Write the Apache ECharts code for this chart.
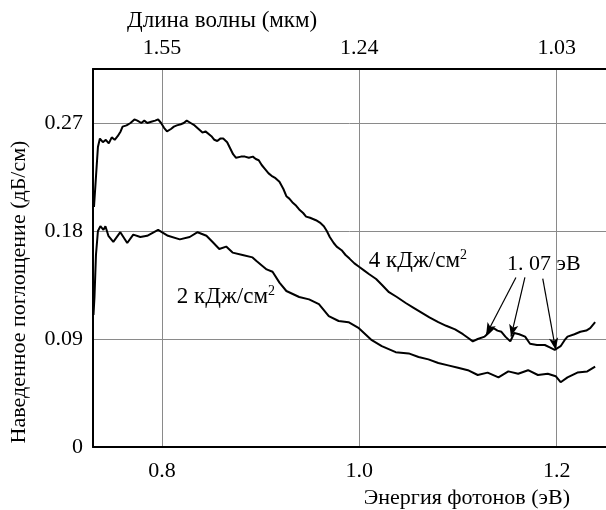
<!DOCTYPE html>
<html>
<head>
<meta charset="utf-8">
<script src="https://cdn.jsdelivr.net/npm/echarts@6/dist/echarts.min.js"></script>
<style>html,body{margin:0;padding:0;background:#fff}#c{width:606px;height:510px}</style>
</head>
<body>
<div id="c"></div>
<script>
// ---- data ----
const energyTicks = [0.8, 1.0, 1.2];
const wavelengthLabels = ['1.55', '1.24', '1.03'];
const yTickValues = [0, 0.09, 0.18, 0.27];

const energy4 = [0.731,0.733,0.735,0.737,0.740,0.743,0.746,0.749,0.752,0.755,0.758,0.760,0.764,0.768,0.772,0.775,0.779,0.782,0.785,0.789,0.793,0.796,0.799,0.802,0.805,0.809,0.812,0.815,0.819,0.822,0.825,0.829,0.833,0.837,0.841,0.844,0.846,0.850,0.853,0.856,0.859,0.862,0.866,0.869,0.872,0.875,0.877,0.880,0.884,0.888,0.892,0.895,0.898,0.901,0.904,0.908,0.911,0.915,0.919,0.923,0.926,0.929,0.932,0.936,0.939,0.943,0.946,0.950,0.953,0.956,0.960,0.964,0.967,0.970,0.974,0.977,0.982,0.986,0.990,0.995,1.000,1.005,1.010,1.017,1.023,1.030,1.038,1.047,1.055,1.063,1.071,1.080,1.088,1.097,1.105,1.110,1.115,1.120,1.127,1.131,1.136,1.140,1.144,1.148,1.153,1.157,1.162,1.168,1.173,1.180,1.188,1.193,1.198,1.204,1.208,1.211,1.218,1.224,1.230,1.234,1.239];
const absorb4 = [0.200,0.225,0.250,0.257,0.254,0.256,0.253,0.258,0.256,0.259,0.263,0.267,0.268,0.270,0.273,0.272,0.270,0.272,0.270,0.271,0.272,0.273,0.270,0.266,0.263,0.265,0.267,0.268,0.269,0.270,0.272,0.270,0.268,0.265,0.262,0.263,0.263,0.259,0.256,0.255,0.257,0.257,0.254,0.249,0.244,0.241,0.240,0.242,0.242,0.241,0.242,0.240,0.239,0.235,0.232,0.228,0.226,0.224,0.221,0.215,0.209,0.207,0.204,0.201,0.198,0.195,0.192,0.191,0.190,0.189,0.187,0.184,0.180,0.175,0.170,0.167,0.164,0.160,0.157,0.153,0.150,0.147,0.144,0.140,0.135,0.129,0.125,0.120,0.116,0.112,0.108,0.104,0.101,0.098,0.094,0.091,0.088,0.090,0.092,0.095,0.099,0.097,0.096,0.092,0.088,0.095,0.094,0.092,0.086,0.085,0.085,0.083,0.081,0.084,0.089,0.092,0.094,0.096,0.097,0.099,0.104];

const energy2 = [0.7305,0.7315,0.733,0.735,0.7375,0.7406,0.7426,0.7456,0.7506,0.7577,0.7647,0.7708,0.778,0.7849,0.796,0.806,0.818,0.828,0.836,0.845,0.851,0.858,0.865,0.8715,0.8816,0.8917,0.8957,0.906,0.912,0.919,0.926,0.939,0.949,0.959,0.969,0.979,0.989,0.9995,1.0126,1.0227,1.0368,1.050,1.060,1.070,1.080,1.090,1.100,1.110,1.120,1.130,1.141,1.151,1.161,1.171,1.181,1.191,1.199,1.204,1.211,1.221,1.231,1.239];
const absorb2 = [0.110,0.125,0.160,0.180,0.184,0.181,0.184,0.176,0.171,0.179,0.170,0.177,0.175,0.176,0.181,0.176,0.173,0.175,0.179,0.176,0.171,0.165,0.167,0.162,0.160,0.158,0.155,0.148,0.146,0.137,0.130,0.125,0.123,0.119,0.109,0.105,0.104,0.099,0.089,0.084,0.079,0.078,0.075,0.073,0.070,0.068,0.066,0.064,0.060,0.062,0.058,0.063,0.061,0.064,0.060,0.061,0.059,0.054,0.058,0.062,0.063,0.067];

const labelCurve4 = '4 кДж/см';
const labelCurve2 = '2 кДж/см';
const labelPeak = '1. 07 эВ';
const xName = 'Энергия фотонов (эВ)';
const x2Name = 'Длина волны (мкм)';
const yName = 'Наведенное поглощение (дБ/см)';

// ---- chart ----
const FONT = "'Liberation Serif','Times New Roman',serif";
const chart = echarts.init(document.getElementById('c'), null, {renderer: 'canvas'});
const zip = (a, b) => a.map((v, i) => [v, b[i]]);
const tickIndex = v => energyTicks.findIndex(t => Math.abs(t - v) < 1e-6);
const richSup = {
  a: {fontFamily: FONT, fontSize: 23, color: '#000', lineHeight: 26},
  s: {fontFamily: FONT, fontSize: 14, color: '#000', verticalAlign: 'top', lineHeight: 14}
};

const option = {
  animation: false,
  backgroundColor: '#fff',
  grid: {left: 93, top: 69, right: -3, bottom: 63, containLabel: false},
  xAxis: [
    {
      type: 'value', position: 'bottom', min: 0.73, max: 1.25,
      axisLine: {show: true, onZero: false, lineStyle: {color: '#000', width: 2}},
      axisTick: {show: false, customValues: energyTicks},
      splitLine: {show: true, lineStyle: {color: '#8a8a8a', width: 1}},
      axisLabel: {
        color: '#000', fontFamily: FONT, fontSize: 22, margin: 13,
        customValues: energyTicks,
        formatter: v => tickIndex(v) < 0 ? '' : v.toFixed(1)
      }
    },
    {
      type: 'value', position: 'top', min: 0.73, max: 1.25,
      axisLine: {show: true, onZero: false, lineStyle: {color: '#000', width: 2}},
      axisTick: {show: false, customValues: energyTicks},
      splitLine: {show: false},
      axisLabel: {
        color: '#000', fontFamily: FONT, fontSize: 22, margin: 10,
        customValues: energyTicks,
        formatter: v => { const i = tickIndex(v); return i < 0 ? '' : wavelengthLabels[i]; }
      }
    }
  ],
  yAxis: {
    type: 'value', min: 0, max: 0.315, interval: 0.09,
    axisLine: {show: true, onZero: false, lineStyle: {color: '#000', width: 2}},
    axisTick: {show: false},
    splitLine: {show: true, lineStyle: {color: '#8a8a8a', width: 1}},
    axisLabel: {
      color: '#000', fontFamily: FONT, fontSize: 22, margin: 10, showMaxLabel: false,
      formatter: v => { const i = yTickValues.findIndex(t => Math.abs(t - v) < 1e-6); return i < 0 ? '' : (v === 0 ? '0' : v.toFixed(2)); }
    }
  },
  series: [
    {
      type: 'line', data: zip(energy4, absorb4), showSymbol: false, symbol: 'none',
      lineStyle: {color: '#000', width: 2}, xAxisIndex: 0,
      markPoint: {
        symbol: 'circle', symbolSize: 0, silent: true,
        label: {show: true, position: 'right', distance: 0, color: '#000', fontFamily: FONT, fontSize: 22,
          formatter: p => p.name === 'peak' ? labelPeak : '{a|' + labelCurve4 + '}{s|2}',
          rich: richSup},
        data: [
          {name: 'c4', coord: [1.0096, 0.155]},
          {name: 'peak', coord: [1.1496, 0.152]}
        ]
      },
      markLine: {
        silent: true, symbol: ['none', 'arrow'], symbolSize: [7, 12],
        label: {show: false},
        lineStyle: {color: '#000', width: 1.2, type: 'solid'},
        data: [
          [{coord: [1.1587, 0.1413]}, {coord: [1.1285, 0.0936]}],
          [{coord: [1.1678, 0.1413]}, {coord: [1.1537, 0.0920]}],
          [{coord: [1.1859, 0.1404]}, {coord: [1.1990, 0.0810]}]
        ]
      }
    },
    {
      type: 'line', data: zip(energy2, absorb2), showSymbol: false, symbol: 'none',
      lineStyle: {color: '#000', width: 2}, xAxisIndex: 0,
      markPoint: {
        symbol: 'circle', symbolSize: 0, silent: true,
        label: {show: true, position: 'right', distance: 0, color: '#000', fontFamily: FONT, fontSize: 23,
          formatter: () => '{a|' + labelCurve2 + '}{s|2}',
          rich: richSup},
        data: [{name: 'c2', coord: [0.815, 0.125]}]
      }
    }
  ],
  graphic: [
    {type: 'text', x: 127, y: 21, style: {text: x2Name, font: '23px ' + FONT, fill: '#000', textAlign: 'left', textVerticalAlign: 'middle'}},
    {type: 'text', x: 570, y: 498, style: {text: xName, font: '22px ' + FONT, fill: '#000', textAlign: 'right', textVerticalAlign: 'middle'}},
    {type: 'text', x: 19, y: 292, rotation: Math.PI / 2, style: {text: yName, font: '22px ' + FONT, fill: '#000', textAlign: 'center', textVerticalAlign: 'middle'}}
  ]
};
chart.setOption(option);
</script>
</body>
</html>
